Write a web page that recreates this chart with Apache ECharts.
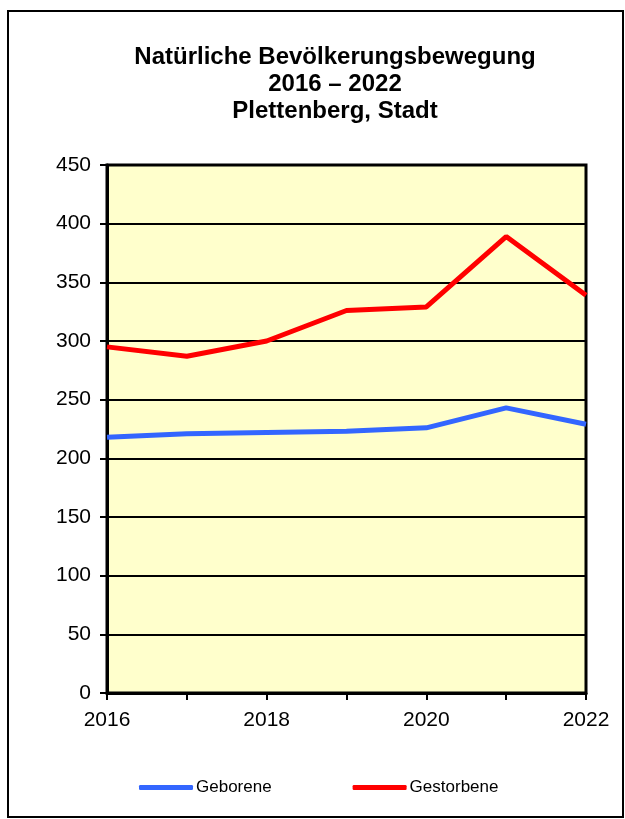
<!DOCTYPE html>
<html>
<head>
    <meta charset="UTF-8">
    <title>Natürliche Bevölkerungsbewegung</title>
    <style type="text/css">
        html, body { margin: 0; padding: 0; background: #fff; }
        #mychart { width: 625px; height: 819px; }
    </style>
</head>
<body>
<div id="mychart"></div>
<script src="https://cdn.jsdelivr.net/npm/echarts@6/dist/echarts.min.js"></script>
<script>
    var years = ['2016', '2017', '2018', '2019', '2020', '2021', '2022'];
    var geborene = [218, 221, 222, 223, 226, 243, 229];
    var gestorbene = [295, 287, 300, 326, 329, 389, 339];
    var seriesNames = ['Geborene', 'Gestorbene'];

    var font = '"Liberation Sans", Arial, sans-serif';

    var mychart = echarts.init(document.getElementById('mychart'));
    mychart.setOption({
        animation: false,
        backgroundColor: '#fff',
        textStyle: { fontFamily: font, color: '#000' },
        title: {
            text: 'Natürliche Bevölkerungsbewegung\n2016 – 2022\nPlettenberg, Stadt',
            left: 335,
            top: 44,
            textAlign: 'center',
            padding: 0,
            textStyle: {
                fontFamily: font,
                fontSize: 24,
                fontWeight: 'bold',
                lineHeight: 27,
                color: '#000'
            }
        },
        legend: {
            data: seriesNames,
            left: 139,
            top: 779,
            padding: 0,
            icon: 'roundRect',
            itemWidth: 54,
            itemHeight: 5,
            itemGap: 81,
            itemStyle: { borderWidth: 0 },
            textStyle: { fontFamily: font, fontSize: 17, color: '#000', padding: [0, 0, 0, -2] }
        },
        grid: {
            left: 107,
            right: 39,
            top: 165,
            bottom: 126,
            show: true,
            backgroundColor: '#FFFFCC',
            borderColor: '#000',
            borderWidth: 3
        },
        xAxis: {
            type: 'category',
            data: years,
            boundaryGap: false,
            axisLine: { lineStyle: { color: '#000', width: 3 } },
            axisTick: { interval: 0, length: 7, lineStyle: { color: '#000', width: 2 } },
            axisLabel: { interval: 1, fontSize: 21, color: '#000', margin: 17 },
            splitLine: { show: false }
        },
        yAxis: {
            type: 'value',
            min: 0,
            max: 450,
            interval: 50,
            axisLine: { show: true, lineStyle: { color: '#000', width: 3 } },
            axisTick: { show: true, length: 7, lineStyle: { color: '#000', width: 2 } },
            axisLabel: { fontSize: 21, color: '#000', margin: 16 },
            splitLine: { show: true, lineStyle: { color: '#000', width: 2 } }
        },
        series: [
            {
                name: seriesNames[0],
                type: 'line',
                data: geborene,
                symbol: 'none',
                color: '#3366FF',
                lineStyle: { width: 5, color: '#3366FF' }
            },
            {
                name: seriesNames[1],
                type: 'line',
                data: gestorbene,
                symbol: 'none',
                color: '#FF0000',
                lineStyle: { width: 5, color: '#FF0000' }
            }
        ],
        graphic: [
            {
                type: 'rect',
                shape: { x: 8, y: 11, width: 615, height: 806 },
                style: { fill: 'none', stroke: '#000', lineWidth: 2 },
                silent: true
            }
        ]
    });
</script>
</body>
</html>
